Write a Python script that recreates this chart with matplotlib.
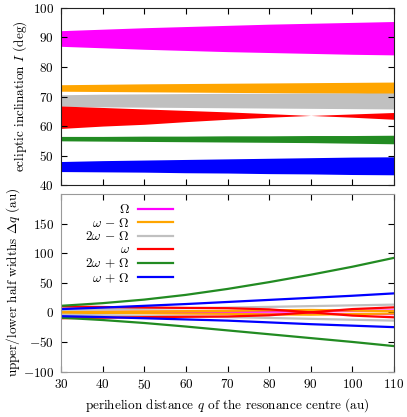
import numpy as np
import matplotlib
matplotlib.use("Agg")
import matplotlib.pyplot as plt

plt.rcParams['font.family'] = 'serif'
plt.rcParams['font.serif'] = ['cmr10']
plt.rcParams['mathtext.fontset'] = 'cm'
plt.rcParams['axes.formatter.use_mathtext'] = True
plt.rcParams['font.size'] = 9.5

# perihelion distance of resonance centre (au)
q = [30, 40, 50, 60, 70, 80, 90, 100, 110]

labels = [r"$\Omega$", r"$\omega\,-\,\Omega$", r"$2\omega\,-\,\Omega$",
          r"$\omega$", r"$2\omega\,+\,\Omega$", r"$\omega\,+\,\Omega$"]
colours = ['#ff00ff', '#ffa500', '#c0c0c0', '#ff0000', '#228b22', '#0000ff']

# inclination limits (deg), upper and lower edge of each band
inc_hi = [
    [92.3, 92.8, 93.3, 93.7, 94.1, 94.5, 94.8, 95.1, 95.4],
    [74.0, 74.15, 74.3, 74.4, 74.5, 74.6, 74.7, 74.8, 74.9],
    [70.6, 70.8, 70.9, 71.0, 71.1, 71.1, 71.2, 71.2, 71.2],
    [66.8, 66.3, 65.8, 65.3, 64.8, 64.2, 63.6, 63.0, 62.3],
    [56.5, 56.5, 56.6, 56.6, 56.7, 56.7, 56.8, 56.8, 56.9],
    [48.0, 48.3, 48.5, 48.7, 48.9, 49.1, 49.3, 49.5, 49.6],
]
inc_lo = [
    [87.0, 86.5, 86.0, 85.6, 85.2, 84.9, 84.6, 84.3, 84.1],
    [71.8, 71.7, 71.6, 71.5, 71.4, 71.3, 71.2, 71.1, 70.9],
    [66.7, 66.5, 66.4, 66.3, 66.2, 66.1, 66.0, 65.9, 65.8],
    [59.2, 60.0, 60.6, 61.5, 62.3, 63.0, 63.6, 64.1, 64.6],
    [55.0, 54.9, 54.8, 54.7, 54.6, 54.5, 54.4, 54.2, 54.0],
    [44.6, 44.5, 44.4, 44.2, 44.1, 43.9, 43.8, 43.6, 43.5],
]

# upper / lower half widths dq (au)
dq_hi = [
    [0.5, 0.8, 1.0, 1.3, 1.6, 2.0, 2.3, 2.7, 3.0],
    [1.0, 1.2, 1.5, 2.0, 2.5, 3.5, 4.0, 3.0, 2.0],
    [4.0, 5.0, 6.0, 7.0, 8.0, 9.2, 10.5, 11.8, 13.0],
    [10.0, 9.0, 8.2, 7.5, 7.0, 5.0, 0.0, 5.5, 8.4],
    [11.0, 15.5, 21.5, 29.5, 39.5, 51.0, 63.5, 77.0, 92.0],
    [5.5, 8.0, 11.0, 14.0, 17.5, 21.0, 24.5, 28.0, 32.0],
]
dq_lo = [
    [-0.5, -0.8, -1.0, -1.3, -1.6, -2.0, -2.3, -2.7, -3.0],
    [-1.0, -1.2, -1.5, -2.0, -2.5, -3.5, -4.0, -3.0, -2.0],
    [-4.0, -5.0, -6.0, -7.0, -8.0, -9.5, -11.0, -12.5, -14.0],
    [-10.0, -9.0, -8.2, -7.5, -7.0, -5.0, 0.0, -5.5, -8.4],
    [-9.0, -13.0, -18.0, -24.0, -30.5, -37.0, -43.5, -50.0, -57.0],
    [-6.5, -8.0, -10.0, -12.0, -14.0, -17.0, -20.0, -22.5, -25.0],
]

fig = plt.figure(figsize=(4.07, 4.17), dpi=100)
ax1 = fig.add_axes([0.150, 0.556, 0.818, 0.425])
ax2 = fig.add_axes([0.150, 0.109, 0.818, 0.426])

for i in range(len(labels)):
    ax1.fill_between(q, inc_lo[i], inc_hi[i], color=colours[i], lw=0)

for i in range(len(labels)):
    ax2.plot(q, dq_hi[i], color=colours[i], lw=1.6, label=labels[i])
    ax2.plot(q, dq_lo[i], color=colours[i], lw=1.6)

ax1.set_xlim(30, 110)
ax1.set_ylim(40, 100)
ax1.set_xticks(np.arange(30, 111, 10))
ax1.set_yticks(np.arange(40, 101, 10))
ax1.tick_params(labelbottom=False)
ax1.set_ylabel(r"ecliptic inclination $I$ (deg)")
ax1.yaxis.set_label_coords(-0.095, 0.5)

ax2.set_xlim(30, 110)
ax2.set_ylim(-100, 200)
ax2.set_xticks(np.arange(30, 111, 10))
ax2.set_yticks(np.arange(-100, 151, 50))
ax2.set_xlabel(r"perihelion distance $q$ of the resonance centre (au)")
ax2.set_ylabel(r"upper/lower half widths $\Delta q$ (au)")
ax2.yaxis.set_label_coords(-0.117, 0.5)
ax2.xaxis.set_label_coords(0.5, -0.14)

for ax in (ax1, ax2):
    ax.tick_params(direction='in', top=True, right=True, length=4, width=0.8, pad=5)
for s in ax1.spines.values():
    s.set_color('#222222')
for s in ax2.spines.values():
    s.set_color('#999999')
ax2.spines['right'].set_color('#444444')

leg = ax2.legend(loc='upper left', bbox_to_anchor=(0.045, 1.0), markerfirst=False,
                 frameon=False, handlelength=2.65, labelspacing=0.05,
                 handletextpad=0.6, borderaxespad=0.3)

fig.savefig("out.png", dpi=100)
